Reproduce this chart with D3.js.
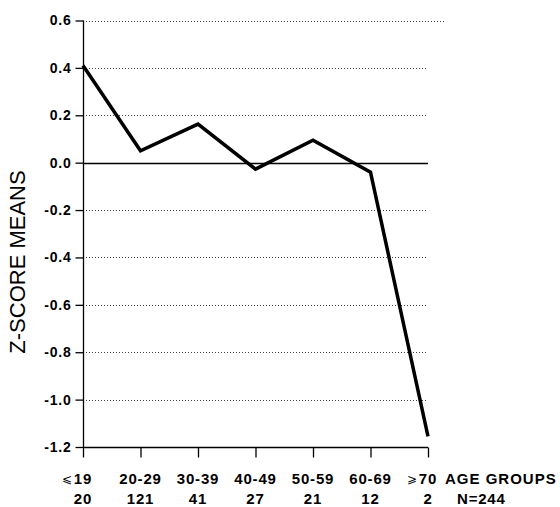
<!DOCTYPE html>
<html><head><meta charset="utf-8">
<script src="https://cdn.jsdelivr.net/npm/d3@7"></script>
<style>
body{margin:0;background:#fff;}
svg{display:block;}
text{font-family:"Liberation Sans",Arial,Helvetica,sans-serif;}
</style></head><body>
<svg id="c" width="560" height="507"></svg>
<script>
const ageGroups = ["⩽19","20-29","30-39","40-49","50-59","60-69","⩾70"];
const groupN = ["20","121","41","27","21","12","2"];
const zMeans = [0.41, 0.05, 0.163, -0.027, 0.095, -0.04, -1.155];
const yTicks = [0.6,0.4,0.2,0.0,-0.2,-0.4,-0.6,-0.8,-1.0,-1.2];
const yTickLabels = ["0.6","0.4","0.2","0.0","-0.2","-0.4","-0.6","-0.8","-1.0","-1.2"];

const svg = d3.select("#c");
const x = d3.scalePoint().domain(ageGroups).range([83,428]);
const y = d3.scaleLinear().domain([-1.2,0.6]).range([447,20.5]);

// grid lines
svg.append("g").selectAll("line").data(yTicks.filter(v=>v!==-1.2)).join("line")
  .attr("x1",83).attr("x2",v=>v===0.6?445:428)
  .attr("y1",v=>Math.round(y(v))+0.5).attr("y2",v=>Math.round(y(v))+0.5)
  .attr("stroke",v=>v===0?"#000":"#444")
  .attr("stroke-width",v=>v===0?1.3:1)
  .attr("stroke-dasharray",v=>v===0?null:"1,2");

// y axis
const yAxis = d3.axisLeft(y).tickValues(yTicks).tickSize(8).tickPadding(4)
  .tickFormat((d,i)=>yTickLabels[i]);
const gy = svg.append("g").attr("transform","translate(83.5,0)").call(yAxis);
gy.select(".domain").attr("d","M0,"+y(0.6)+"V"+y(-1.2)).attr("stroke","#000").attr("stroke-width",1.3);
gy.selectAll(".tick line").attr("stroke","#000").attr("stroke-width",1.3);
gy.selectAll(".tick text").attr("font-size",14).attr("font-weight","bold").attr("fill","#000")
  .attr("letter-spacing","0.8px")
  .attr("font-family","'Liberation Sans',Arial,sans-serif");

// x axis
const xAxis = d3.axisBottom(x).tickSize(10).tickFormat("");
const gx = svg.append("g").attr("transform","translate(0,"+(Math.round(y(-1.2))+0.5)+")").call(xAxis);
gx.select(".domain").attr("d","M83,0H428").attr("stroke","#000").attr("stroke-width",1.3);
gx.selectAll(".tick line").attr("stroke","#000").attr("stroke-width",1.3);

// x labels (number part centred on tick, relation symbol to its left)
const isSym = d => d[0]==="⩽"||d[0]==="⩾";
svg.append("g").selectAll("text").data(ageGroups).join("text")
  .attr("x",d=>x(d)).attr("y",484).attr("text-anchor","middle")
  .attr("font-size",15).attr("font-weight","bold").attr("letter-spacing","0.8px")
  .text(d=>isSym(d)?d.slice(1):d);
svg.append("g").selectAll("text").data(ageGroups.filter(isSym)).join("text")
  .attr("x",d=>x(d)-11).attr("y",483).attr("text-anchor","end")
  .attr("font-family","'DejaVu Sans',sans-serif").attr("font-size",12).text(d=>d[0]);
svg.append("g").selectAll("text").data(ageGroups).join("text")
  .attr("x",d=>x(d)).attr("y",504).attr("text-anchor","middle")
  .attr("font-size",15).attr("font-weight","bold").attr("letter-spacing","0.8px").text((d,i)=>groupN[i]);
svg.append("text").attr("x",445).attr("y",484).attr("font-size",15).attr("font-weight","bold")
  .attr("letter-spacing","1px").text("AGE GROUPS");
svg.append("text").attr("x",457).attr("y",504).attr("font-size",15).attr("font-weight","bold")
  .attr("letter-spacing","0.8px").text("N=244");

// y title
svg.append("text").attr("transform","translate(25,262) rotate(-90)").attr("text-anchor","middle")
  .attr("font-size",22).text("Z-SCORE MEANS");

// line
const line = d3.line().x((d,i)=>x(ageGroups[i])).y(d=>y(d));
svg.append("path").datum(zMeans).attr("d",line).attr("fill","none")
  .attr("stroke","#000").attr("stroke-width",3.5).attr("stroke-linejoin","miter");
</script></body></html>
